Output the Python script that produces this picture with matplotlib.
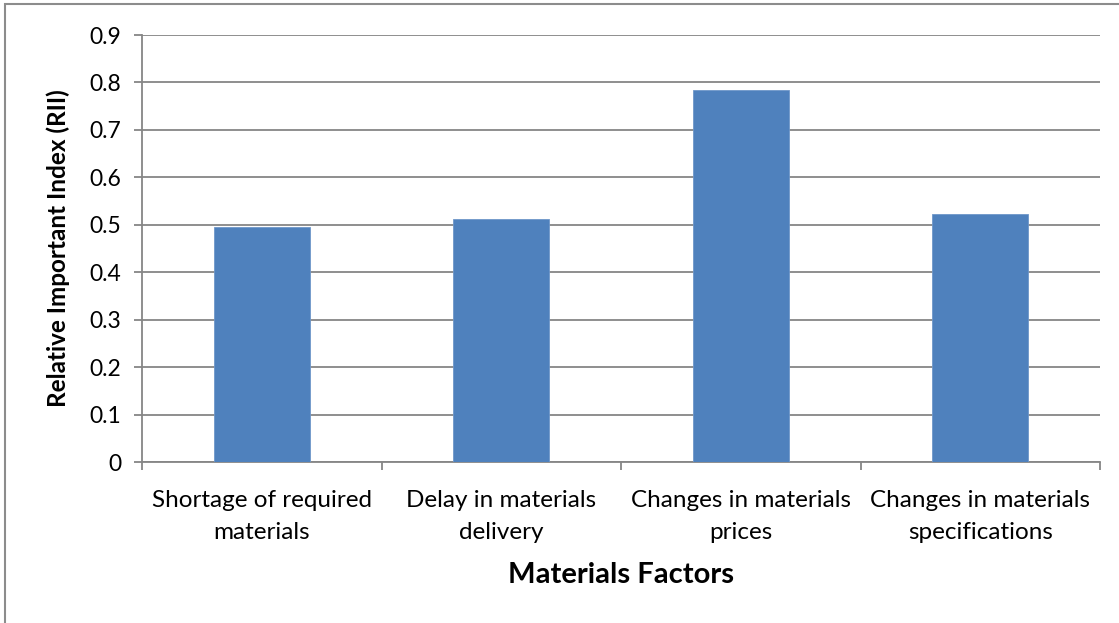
import matplotlib
matplotlib.use("Agg")
import matplotlib.pyplot as plt
from matplotlib.patches import Rectangle

categories = [
    "Shortage of required\nmaterials",
    "Delay in materials\ndelivery",
    "Changes in materials\nprices",
    "Changes in materials\nspecifications",
]
rii_values = [0.496, 0.513, 0.785, 0.523]
y_ticks = [0, 0.1, 0.2, 0.3, 0.4, 0.5, 0.6, 0.7, 0.8, 0.9]
y_tick_labels = ["0", "0.1", "0.2", "0.3", "0.4", "0.5", "0.6", "0.7", "0.8", "0.9"]

plt.rcParams["font.family"] = ["Lato", "DejaVu Sans"]

fig = plt.figure(figsize=(11.19, 6.23), dpi=100)
ax = fig.add_axes([0.1269, 0.2584, 0.8562, 0.6854])

grid_color = "#868686"
bar_color = "#4F81BD"

positions = list(range(len(categories)))
ax.bar(positions, rii_values, width=0.4, color=bar_color,
       edgecolor="#6f97c9", linewidth=0.6, zorder=3)

ax.set_xlim(-0.5, len(categories) - 0.5)
ax.set_ylim(0, 0.9)
ax.set_yticks(y_ticks)
ax.set_yticklabels(y_tick_labels)
ax.yaxis.grid(True, color=grid_color, linewidth=1.3, zorder=0)
ax.set_axisbelow(True)

# category labels centred under bars, tick marks at category boundaries
ax.set_xticks(positions)
ax.set_xticklabels(categories, fontsize=17.5, linespacing=1.65)
ax.tick_params(axis="x", which="major", length=0, pad=20)
ax.set_xticks([p - 0.5 for p in positions] + [len(categories) - 0.5], minor=True)
ax.tick_params(axis="x", which="minor", length=6, color=grid_color, width=1.3)
ax.tick_params(axis="y", length=6, color=grid_color, width=1.3,
               labelsize=16.5, pad=9)

for side in ("top", "right"):
    ax.spines[side].set_visible(False)
for side in ("left", "bottom"):
    ax.spines[side].set_color(grid_color)
    ax.spines[side].set_linewidth(1.3)

ax.set_ylabel("Relative Important Index (RII)", fontsize=17.5,
              fontweight="bold", labelpad=14)
ax.set_xlabel("Materials Factors", fontsize=21, fontweight="bold",
              labelpad=14)

# outer chart-area frame
fig.patches.append(Rectangle((5 / 1119, -0.05), 1.2, 1 - 4 / 623 + 0.05,
                             transform=fig.transFigure, fill=False,
                             edgecolor="#8c8c8c", linewidth=1.5))

fig.savefig("out.png", dpi=100)
